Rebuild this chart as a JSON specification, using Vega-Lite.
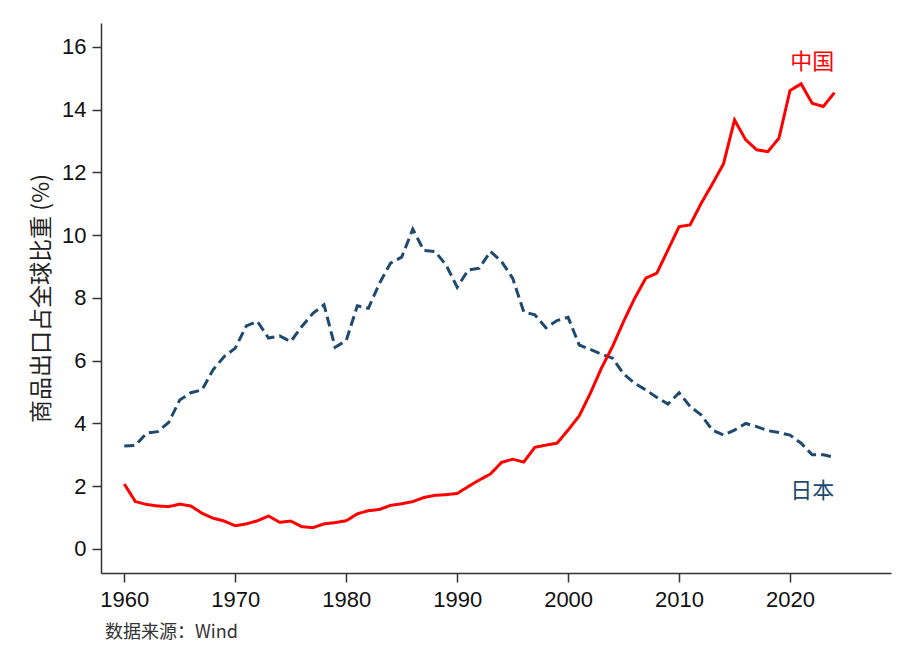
{
  "$schema": "https://vega.github.io/schema/vega-lite/v6.json",
  "width": 790,
  "height": 550,
  "autosize": {"type": "none"},
  "padding": {"left": 101, "top": 23, "right": 25, "bottom": 94},
  "background": "white",
  "config": {"view": {"stroke": null}, "font": "Liberation Sans"},
  "title": {
    "text": "数据来源：Wind",
    "orient": "bottom",
    "anchor": "start",
    "frame": "group",
    "font": "Noto Sans CJK SC",
    "fontSize": 18,
    "fontWeight": "normal",
    "color": "#333333",
    "offset": 14,
    "dx": 4
  },
  "datasets": {
    "series": [
      {"year": 1960, "country": "日本", "value": 3.28},
      {"year": 1961, "country": "日本", "value": 3.30},
      {"year": 1962, "country": "日本", "value": 3.69},
      {"year": 1963, "country": "日本", "value": 3.74},
      {"year": 1964, "country": "日本", "value": 4.03},
      {"year": 1965, "country": "日本", "value": 4.75},
      {"year": 1966, "country": "日本", "value": 4.98},
      {"year": 1967, "country": "日本", "value": 5.07},
      {"year": 1968, "country": "日本", "value": 5.71},
      {"year": 1969, "country": "日本", "value": 6.13},
      {"year": 1970, "country": "日本", "value": 6.40},
      {"year": 1971, "country": "日本", "value": 7.11},
      {"year": 1972, "country": "日本", "value": 7.25},
      {"year": 1973, "country": "日本", "value": 6.72},
      {"year": 1974, "country": "日本", "value": 6.79},
      {"year": 1975, "country": "日本", "value": 6.61},
      {"year": 1976, "country": "日本", "value": 7.09},
      {"year": 1977, "country": "日本", "value": 7.51},
      {"year": 1978, "country": "日本", "value": 7.78},
      {"year": 1979, "country": "日本", "value": 6.43},
      {"year": 1980, "country": "日本", "value": 6.64},
      {"year": 1981, "country": "日本", "value": 7.75},
      {"year": 1982, "country": "日本", "value": 7.67},
      {"year": 1983, "country": "日本", "value": 8.47},
      {"year": 1984, "country": "日本", "value": 9.11},
      {"year": 1985, "country": "日本", "value": 9.30},
      {"year": 1986, "country": "日本", "value": 10.19},
      {"year": 1987, "country": "日本", "value": 9.51},
      {"year": 1988, "country": "日本", "value": 9.48},
      {"year": 1989, "country": "日本", "value": 9.05},
      {"year": 1990, "country": "日本", "value": 8.34},
      {"year": 1991, "country": "日本", "value": 8.89},
      {"year": 1992, "country": "日本", "value": 8.95},
      {"year": 1993, "country": "日本", "value": 9.48},
      {"year": 1994, "country": "日本", "value": 9.16},
      {"year": 1995, "country": "日本", "value": 8.63},
      {"year": 1996, "country": "日本", "value": 7.56},
      {"year": 1997, "country": "日本", "value": 7.46},
      {"year": 1998, "country": "日本", "value": 7.05},
      {"year": 1999, "country": "日本", "value": 7.28},
      {"year": 2000, "country": "日本", "value": 7.38},
      {"year": 2001, "country": "日本", "value": 6.50},
      {"year": 2002, "country": "日本", "value": 6.36},
      {"year": 2003, "country": "日本", "value": 6.21},
      {"year": 2004, "country": "日本", "value": 6.08},
      {"year": 2005, "country": "日本", "value": 5.58},
      {"year": 2006, "country": "日本", "value": 5.28},
      {"year": 2007, "country": "日本", "value": 5.07},
      {"year": 2008, "country": "日本", "value": 4.83},
      {"year": 2009, "country": "日本", "value": 4.62},
      {"year": 2010, "country": "日本", "value": 4.98},
      {"year": 2011, "country": "日本", "value": 4.54},
      {"year": 2012, "country": "日本", "value": 4.27},
      {"year": 2013, "country": "日本", "value": 3.79},
      {"year": 2014, "country": "日本", "value": 3.63},
      {"year": 2015, "country": "日本", "value": 3.79},
      {"year": 2016, "country": "日本", "value": 4.00},
      {"year": 2017, "country": "日本", "value": 3.90},
      {"year": 2018, "country": "日本", "value": 3.77},
      {"year": 2019, "country": "日本", "value": 3.71},
      {"year": 2020, "country": "日本", "value": 3.63},
      {"year": 2021, "country": "日本", "value": 3.37},
      {"year": 2022, "country": "日本", "value": 3.00},
      {"year": 2023, "country": "日本", "value": 3.00},
      {"year": 2024, "country": "日本", "value": 2.92},
      {"year": 1960, "country": "中国", "value": 2.07},
      {"year": 1961, "country": "中国", "value": 1.51},
      {"year": 1962, "country": "中国", "value": 1.42},
      {"year": 1963, "country": "中国", "value": 1.37},
      {"year": 1964, "country": "中国", "value": 1.35},
      {"year": 1965, "country": "中国", "value": 1.43},
      {"year": 1966, "country": "中国", "value": 1.37},
      {"year": 1967, "country": "中国", "value": 1.14},
      {"year": 1968, "country": "中国", "value": 0.98},
      {"year": 1969, "country": "中国", "value": 0.89},
      {"year": 1970, "country": "中国", "value": 0.74},
      {"year": 1971, "country": "中国", "value": 0.80},
      {"year": 1972, "country": "中国", "value": 0.90},
      {"year": 1973, "country": "中国", "value": 1.05},
      {"year": 1974, "country": "中国", "value": 0.85},
      {"year": 1975, "country": "中国", "value": 0.89},
      {"year": 1976, "country": "中国", "value": 0.71},
      {"year": 1977, "country": "中国", "value": 0.68},
      {"year": 1978, "country": "中国", "value": 0.80},
      {"year": 1979, "country": "中国", "value": 0.84},
      {"year": 1980, "country": "中国", "value": 0.90},
      {"year": 1981, "country": "中国", "value": 1.12},
      {"year": 1982, "country": "中国", "value": 1.22},
      {"year": 1983, "country": "中国", "value": 1.26},
      {"year": 1984, "country": "中国", "value": 1.39},
      {"year": 1985, "country": "中国", "value": 1.44},
      {"year": 1986, "country": "中国", "value": 1.51},
      {"year": 1987, "country": "中国", "value": 1.64},
      {"year": 1988, "country": "中国", "value": 1.71},
      {"year": 1989, "country": "中国", "value": 1.73},
      {"year": 1990, "country": "中国", "value": 1.77},
      {"year": 1991, "country": "中国", "value": 1.99},
      {"year": 1992, "country": "中国", "value": 2.20},
      {"year": 1993, "country": "中国", "value": 2.39},
      {"year": 1994, "country": "中国", "value": 2.76},
      {"year": 1995, "country": "中国", "value": 2.86},
      {"year": 1996, "country": "中国", "value": 2.77},
      {"year": 1997, "country": "中国", "value": 3.24},
      {"year": 1998, "country": "中国", "value": 3.31},
      {"year": 1999, "country": "中国", "value": 3.37},
      {"year": 2000, "country": "中国", "value": 3.79},
      {"year": 2001, "country": "中国", "value": 4.24},
      {"year": 2002, "country": "中国", "value": 4.96},
      {"year": 2003, "country": "中国", "value": 5.76},
      {"year": 2004, "country": "中国", "value": 6.45},
      {"year": 2005, "country": "中国", "value": 7.25},
      {"year": 2006, "country": "中国", "value": 7.99},
      {"year": 2007, "country": "中国", "value": 8.63},
      {"year": 2008, "country": "中国", "value": 8.79},
      {"year": 2009, "country": "中国", "value": 9.53},
      {"year": 2010, "country": "中国", "value": 10.27},
      {"year": 2011, "country": "中国", "value": 10.33},
      {"year": 2012, "country": "中国", "value": 11.02},
      {"year": 2013, "country": "中国", "value": 11.63},
      {"year": 2014, "country": "中国", "value": 12.27},
      {"year": 2015, "country": "中国", "value": 13.67},
      {"year": 2016, "country": "中国", "value": 13.04},
      {"year": 2017, "country": "中国", "value": 12.72},
      {"year": 2018, "country": "中国", "value": 12.66},
      {"year": 2019, "country": "中国", "value": 13.09},
      {"year": 2020, "country": "中国", "value": 14.61},
      {"year": 2021, "country": "中国", "value": 14.82},
      {"year": 2022, "country": "中国", "value": 14.20},
      {"year": 2023, "country": "中国", "value": 14.10},
      {"year": 2024, "country": "中国", "value": 14.54}
    ],
    "labels": [
      {"year": 2022, "country": "中国", "value": 15.52},
      {"year": 2022, "country": "日本", "value": 1.85}
    ]
  },
  "layer": [
    {
      "data": {"name": "series"},
      "mark": {"type": "line", "strokeWidth": 3, "clip": true},
      "encoding": {
        "x": {
          "field": "year",
          "type": "quantitative",
          "scale": {"domain": [1957.9, 2029.1], "nice": false, "zero": false},
          "axis": {
            "title": null,
            "values": [1960, 1970, 1980, 1990, 2000, 2010, 2020],
            "format": "d",
            "grid": false,
            "domainColor": "#333333",
            "domainWidth": 1.5,
            "tickColor": "#333333",
            "tickWidth": 1.5,
            "tickSize": 9,
            "labelFontSize": 22,
            "labelColor": "#111111",
            "labelPadding": 7,
            "labelFont": "Liberation Sans"
          }
        },
        "y": {
          "field": "value",
          "type": "quantitative",
          "scale": {"domain": [-0.765, 16.76], "nice": false, "zero": false},
          "axis": {
            "title": "商品出口占全球比重 (%)",
            "titleFont": "Noto Sans CJK SC",
            "titleFontSize": 23,
            "titleFontWeight": "normal",
            "titleColor": "#222222",
            "titlePadding": 8,
            "values": [0, 2, 4, 6, 8, 10, 12, 14, 16],
            "grid": false,
            "domainColor": "#333333",
            "domainWidth": 1.5,
            "tickColor": "#333333",
            "tickWidth": 1.5,
            "tickSize": 9,
            "labelFontSize": 22,
            "labelColor": "#111111",
            "labelPadding": 6,
            "labelFont": "Liberation Sans"
          }
        },
        "color": {
          "field": "country",
          "type": "nominal",
          "scale": {"domain": ["中国", "日本"], "range": ["#ff0000", "#1f4a70"]},
          "legend": null
        },
        "strokeDash": {
          "field": "country",
          "type": "nominal",
          "scale": {"domain": ["中国", "日本"], "range": [[1, 0], [10, 5]]},
          "legend": null
        }
      }
    },
    {
      "data": {"name": "labels"},
      "mark": {"type": "text", "font": "Noto Sans CJK SC", "fontSize": 22, "align": "center", "baseline": "middle"},
      "encoding": {
        "x": {"field": "year", "type": "quantitative"},
        "y": {"field": "value", "type": "quantitative"},
        "text": {"field": "country"},
        "color": {
          "field": "country",
          "type": "nominal",
          "scale": {"domain": ["中国", "日本"], "range": ["#ff0000", "#1f4a70"]},
          "legend": null
        }
      }
    }
  ]
}
